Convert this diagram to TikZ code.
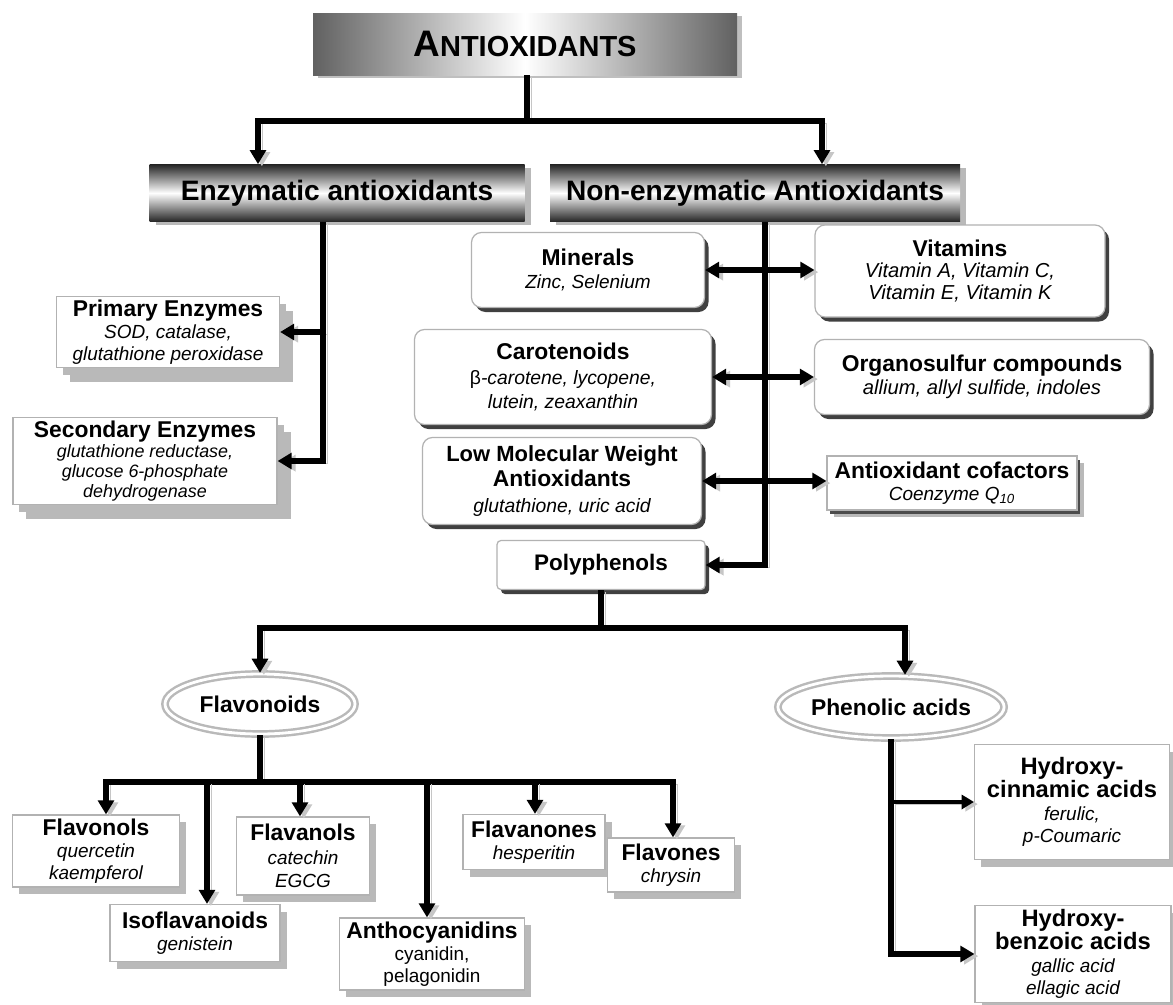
\documentclass[tikz,border=0pt]{standalone}
\usepackage{fontspec}
\setmainfont{Liberation Sans}
\usetikzlibrary{arrows.meta,shapes.geometric,shadows,calc}
\def\pxu{0.02cm}
\newcommand{\bxhd}[1]{{\fontsize{13}{15}\selectfont\bfseries\upshape #1}}
\newcommand{\bighd}[1]{{\fontsize{13.5}{15.5}\selectfont\bfseries\upshape #1}}
\begin{document}
\begin{tikzpicture}[x=0.02cm,y=-0.02cm,
  lineshadow/.style={preaction={draw=gray!45, transform canvas={xshift=2.2pt,yshift=-1.2pt}}},
  conn/.style={line width=2.9pt, line join=miter, lineshadow},
  arr/.style={conn, -{Triangle[width=9pt,length=8pt]}},
  darr/.style={conn, {Triangle[width=9pt,length=8pt]}-{Triangle[width=9pt,length=8pt]}},
  thinarr/.style={line width=1.8pt, lineshadow, -{Triangle[width=8pt,length=7pt]}},
  itf/.style={font=\fontsize{10.8}{12.5}\selectfont\itshape},
  sqbox/.style={draw=gray!60, line width=0.7pt, fill=white, inner sep=0pt, align=center, itf,
    drop shadow={shadow xshift=0.13cm, shadow yshift=-0.14cm, fill=gray!55, opacity=1}},
  bigshadow/.style={drop shadow={shadow xshift=0.27cm, shadow yshift=-0.28cm, fill=gray!55, opacity=1}},
  rbox/.style={draw=gray!60, line width=0.7pt, fill=white, inner sep=0pt, align=center, rounded corners=0.2cm, itf,
    drop shadow={shadow xshift=0.08cm, shadow yshift=-0.09cm, fill=black!75, opacity=1}},
  banner/.style={draw=none, inner sep=0pt, font=\fontsize{16}{18}\selectfont\bfseries,
    top color=black!85, bottom color=black!85, middle color=white,
    drop shadow={shadow xshift=0.12cm, shadow yshift=-0.06cm, fill=gray!55, opacity=1}},
  ell/.style={ellipse, draw=gray!55, double=white, double distance=1.6pt, line width=1.4pt, fill=white,
    inner sep=0pt, font=\fontsize{13}{15}\selectfont\bfseries},
]
\useasboundingbox (0,0) rectangle (1173,1004);
\fill[white] (0,0) rectangle (1173,1004);

% ---------- title ----------
\node[inner sep=0pt, minimum width=424*\pxu, minimum height=62*\pxu,
  left color=black!62, right color=black!62, middle color=white,
  drop shadow={shadow xshift=0.1cm, shadow yshift=-0.06cm, fill=gray!50, opacity=1}]
  (title) at (525,44) {\bfseries{\fontsize{21}{24}\selectfont A}{\fontsize{16.5}{20}\selectfont NTIOXIDANTS}};

% ---------- level 1 ----------
\node[banner, minimum width=375*\pxu, minimum height=57*\pxu] (enz) at (337,193) {Enzymatic antioxidants};
\node[banner, minimum width=410*\pxu, minimum height=57*\pxu] (nonenz) at (755,193) {Non-enzymatic Antioxidants};

% ---------- enzymes ----------
\node[sqbox, bigshadow, minimum width=223*\pxu, minimum height=71*\pxu] (primary) at (168,332)
  {\bxhd{Primary Enzymes}\\SOD, catalase,\\glutathione peroxidase};
\node[sqbox, bigshadow, minimum width=264*\pxu, minimum height=87*\pxu, font=\fontsize{10.2}{11.5}\selectfont\itshape] (secondary) at (145,461)
  {\bxhd{Secondary Enzymes}\\glutathione reductase,\\glucose 6-phosphate\\dehydrogenase};

% ---------- non-enzymatic ----------
\node[rbox, minimum width=233*\pxu, minimum height=75*\pxu, font=\fontsize{10.8}{13.5}\selectfont\itshape] (minerals) at (588,270)
  {\bxhd{Minerals}\\Zinc, Selenium};
\node[rbox, minimum width=290*\pxu, minimum height=92*\pxu, font=\fontsize{11.5}{12.5}\selectfont\itshape] (vitamins) at (960,271)
  {\bxhd{Vitamins}\\Vitamin A, Vitamin C,\\Vitamin E, Vitamin K};
\node[rbox, minimum width=297*\pxu, minimum height=95*\pxu, font=\fontsize{11}{14}\selectfont\itshape] (carot) at (563,377)
  {\bxhd{Carotenoids}\\{\upshape β}-carotene, lycopene,\\lutein, zeaxanthin};
\node[rbox, minimum width=335*\pxu, minimum height=75*\pxu, font=\fontsize{11.5}{13}\selectfont\itshape] (organo) at (982,377)
  {\bxhd{Organosulfur compounds}\\allium, allyl sulfide, indoles};
\node[rbox, minimum width=279*\pxu, minimum height=87*\pxu, font=\fontsize{11}{14.5}\selectfont\itshape] (lowmw) at (562,481)
  {{\fontsize{12.5}{13.5}\selectfont\bfseries\upshape Low Molecular Weight}\\\bxhd{Antioxidants}\\glutathione, uric acid};
\node[sqbox, minimum width=250*\pxu, minimum height=54*\pxu,
  drop shadow={shadow xshift=0.06cm, shadow yshift=-0.07cm, fill=black!70, opacity=1}] (cofac) at (952,483)
  {\bxhd{Antioxidant cofactors}\\Coenzyme Q$_{\mathit{10}}$};
\node[rbox, rounded corners=0.08cm, minimum width=208*\pxu, minimum height=49*\pxu, font=\fontsize{12.8}{15}\selectfont\bfseries] (poly) at (601,565)
  {Polyphenols};

% ---------- polyphenol classes ----------
\node[ell, minimum width=190*\pxu, minimum height=60*\pxu] (flavonoids) at (260,704) {Flavonoids};
\node[ell, minimum width=222*\pxu, minimum height=62*\pxu] (phenolic) at (891,707) {Phenolic acids};

% ---------- flavonoid subclasses ----------
\node[sqbox, minimum width=167*\pxu, minimum height=72*\pxu] (flavonols) at (96,851)
  {\bxhd{Flavonols}\\quercetin\\kaempferol};
\node[sqbox, minimum width=170*\pxu, minimum height=57*\pxu] (isofl) at (195,933)
  {\bxhd{Isoflavanoids}\\genistein};
\node[sqbox, minimum width=133*\pxu, minimum height=78*\pxu, font=\fontsize{10.8}{13.5}\selectfont\itshape] (flavanols) at (303,856)
  {\bxhd{Flavanols}\\catechin\\EGCG};
\node[sqbox, minimum width=185*\pxu, minimum height=72*\pxu, font=\fontsize{10.8}{12.5}\selectfont] (antho) at (432,954)
  {\bxhd{Anthocyanidins}\\cyanidin,\\pelagonidin};
\node[sqbox, minimum width=142*\pxu, minimum height=55*\pxu] (flavanones) at (534,842)
  {\bxhd{Flavanones}\\hesperitin};
\node[sqbox, minimum width=127*\pxu, minimum height=54*\pxu] (flavones) at (671,865)
  {\bxhd{Flavones}\\chrysin};

% ---------- phenolic acid subclasses ----------
\node[sqbox, minimum width=195*\pxu, minimum height=115*\pxu, font=\fontsize{10.8}{13}\selectfont\itshape] (hcinn) at (1072,802)
  {\bighd{Hydroxy-}\\\bighd{cinnamic acids}\\ferulic,\\p-Coumaric};
\node[sqbox, minimum width=196*\pxu, minimum height=97*\pxu, font=\fontsize{10.8}{13}\selectfont\itshape] (hbenz) at (1073,954)
  {\bighd{Hydroxy-}\\\bighd{benzoic acids}\\gallic acid\\ellagic acid};

% ---------- connectors ----------
\coordinate (tj) at (527,121);
\coordinate (tl) at (258,121);
\coordinate (tr) at (822,121);
\draw[conn] (title.south -| tj) -- (tj);
\draw[arr] (tj) -- (tl) -- (tl |- enz.north);
\draw[arr] (tj) -- (tr) -- (tr |- nonenz.north);

\coordinate (ev) at (323,461);
\draw[conn] (enz.south -| ev) -- (ev |- primary.east);
\draw[arr] (ev |- primary.east) -- (primary.east);
\draw[arr] (enz.south -| ev) -- (ev) -- (secondary.east);

\coordinate (nv) at (765,565);
\draw[arr] (nonenz.south -| nv) -- (nv) -- (poly.east);
\draw[darr] (minerals.east) -- (minerals.east -| vitamins.west);
\draw[darr] (carot.east) -- (carot.east -| organo.west);
\draw[darr] (lowmw.east) -- (lowmw.east -| cofac.west);

\coordinate (pj) at (601,628);
\coordinate (pl) at (260,628);
\coordinate (pr) at (905,628);
\draw[conn] (poly.south) -- (pj);
\draw[arr] (pj) -- (pl) -- (flavonoids.north);
\draw[arr] (pj) -- (pr) -- (pr |- phenolic.north);

\coordinate (fc) at (260,782);
\coordinate (f1) at (106,782);
\coordinate (f2) at (207,782);
\coordinate (f3) at (300,782);
\coordinate (f4) at (427,782);
\coordinate (f5) at (535,782);
\coordinate (f6) at (673,782);
\draw[conn] (flavonoids.south) -- (fc);
\draw[arr] (fc) -- (f1) -- (f1 |- flavonols.north);
\draw[arr] (fc) -- (f6) -- (f6 |- flavones.north);
\draw[arr] (f2) -- (f2 |- isofl.north);
\draw[arr] (f3) -- (f3 |- flavanols.north);
\draw[arr] (f4) -- (f4 |- antho.north);
\draw[arr] (f5) -- (f5 |- flavanones.north);

\draw[arr] (phenolic.south) -- (phenolic.south |- hbenz.west) -- (hbenz.west);
\draw[thinarr] (phenolic.south |- hcinn.west) -- (hcinn.west);
\end{tikzpicture}
\end{document}
